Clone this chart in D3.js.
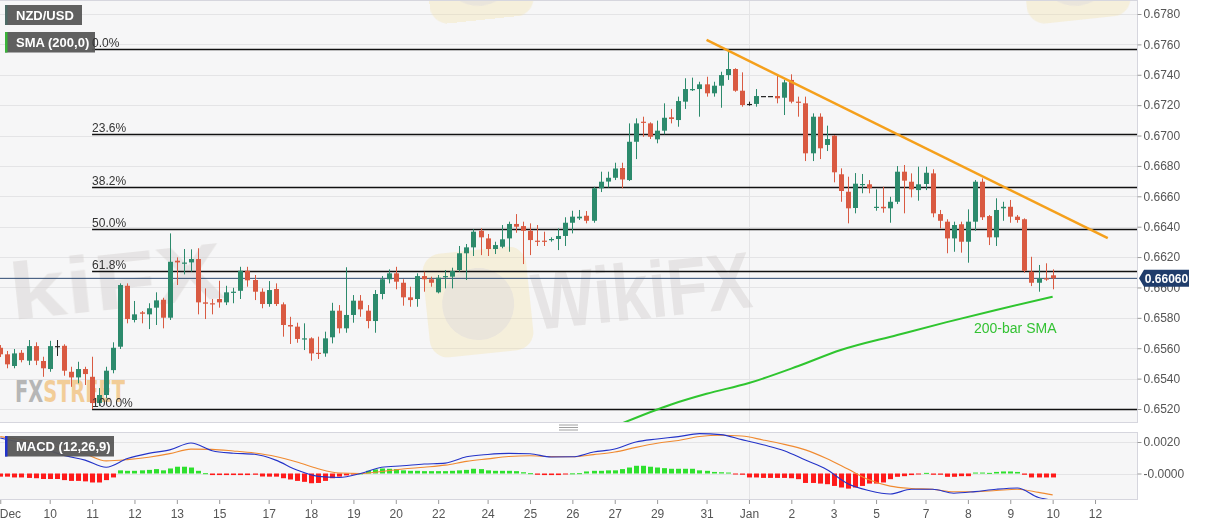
<!DOCTYPE html>
<html><head><meta charset="utf-8">
<script src="https://cdn.jsdelivr.net/npm/d3@7"></script>
<style>
body{margin:0;background:#fff;}
svg{display:block;font-family:"Liberation Sans",Arial,sans-serif;}
</style>
</head><body>
<svg id="c" width="1207" height="526"></svg>
<script>
// ---------- DATA (4-hour NZD/USD candles, bar index 0 = Dec 8) ----------
const opens = [.65603,.65560,.65483,.65570,.65518,.65614,.65516,.65463,.65614,.65616,
.65445,.65408,.65463,.65412,.65239,.65292,.65456,.65610,.66011,.65786,
.65836,.65823,.65867,.65919,.65801,.66176,.66161,.66165,.66187,.65902,
.65896,.65924,.65902,.65970,.65978,.66110,.66049,.65972,.65891,.65990,
.65889,.65753,.65742,.65659,.65665,.65570,.65566,.65672,.65847,.65731,
.65819,.65913,.65847,.65779,.65957,.66054,.66093,.66031,.65935,.65924,
.66075,.66054,.65968,.66067,.66071,.66115,.66225,.66264,.66373,.66323,
.66253,.66268,.66323,.66418,.66404,.66373,.66308,.66308,.66312,.66319,
.66339,.66426,.66455,.66472,.66439,.66653,.66697,.66722,.66786,.66707,
.66959,.67091,.67080,.66975,.67032,.67120,.67102,.67223,.67300,.67306,
.67337,.67278,.67328,.67398,.67438,.67295,.67208,.67208,.67260,.67260,
.67260,.67249,.67366,.67223,.67212,.66883,.67124,.66938,.66999,.66745,
.66630,.66523,.66674,.66679,.66525,.66531,.66521,.66564,.66762,.66696,
.66641,.66681,.66751,.66483,.66433,.66323,.66416,.66301,.66433,.66696,
.66470,.66330,.66521,.66531,.66466,.66449,.66104,.66031,.66060,.66080];
const highs = [.65621,.65582,.65595,.65588,.65654,.65639,.65544,.65649,.65654,.65626,
.65478,.65511,.65478,.65544,.65338,.65478,.65639,.66027,.66027,.65911,
.65845,.65896,.65968,.65932,.66356,.66198,.66253,.66251,.66258,.65994,
.65924,.66044,.66011,.65998,.66136,.66136,.66082,.65994,.66042,.66027,
.65902,.65807,.65768,.65764,.65672,.65676,.65709,.65899,.65884,.66133,
.65950,.65950,.65884,.65983,.66075,.66119,.66136,.66054,.66005,.66093,
.66104,.66071,.66082,.66115,.66130,.66273,.66286,.66383,.66389,.66352,
.66301,.66411,.66433,.66483,.66433,.66422,.66411,.66367,.66330,.66389,
.66462,.66505,.66510,.66503,.66663,.66762,.66762,.66821,.66821,.67080,
.67113,.67124,.67087,.67098,.67212,.67175,.67256,.67377,.67381,.67354,
.67387,.67354,.67420,.67568,.67443,.67416,.67223,.67306,.67260,.67260,
.67394,.67366,.67403,.67256,.67256,.67146,.67146,.67065,.67003,.66784,
.66729,.66753,.66747,.66707,.66646,.66663,.66597,.66799,.66806,.66751,
.66795,.66795,.66778,.66510,.66449,.66433,.66433,.66514,.66707,.66718,
.66477,.66587,.66564,.66576,.66477,.66455,.66202,.66148,.66159,.66119];
const lows = [.65542,.65468,.65468,.65507,.65489,.65489,.65412,.65445,.65549,.65419,
.65346,.65369,.65358,.65200,.65219,.65270,.65435,.65595,.65764,.65770,
.65764,.65726,.65753,.65731,.65786,.66016,.66086,.66104,.65823,.65792,
.65823,.65867,.65884,.65896,.65924,.66005,.65917,.65863,.65873,.65878,
.65676,.65628,.65636,.65588,.65518,.65529,.65544,.65632,.65698,.65702,
.65768,.65807,.65731,.65702,.65922,.66027,.65988,.65880,.65873,.65873,
.65972,.66005,.65961,.65994,.65994,.66104,.66049,.66207,.66213,.66207,
.66220,.66258,.66235,.66360,.66154,.66213,.66273,.66273,.66301,.66246,
.66273,.66356,.66444,.66422,.66426,.66628,.66658,.66707,.66653,.66701,
.66845,.66992,.66977,.66949,.67008,.67080,.67058,.67175,.67293,.67124,
.67256,.67256,.67183,.67366,.67288,.67190,.67196,.67190,.67260,.67260,
.67212,.67135,.67212,.67124,.66832,.66832,.66845,.66898,.66692,.66564,
.66422,.66488,.66620,.66620,.66505,.66492,.66426,.66549,.66488,.66593,
.66571,.66641,.66462,.66389,.66225,.66235,.66229,.66163,.66373,.66444,
.66279,.66273,.66439,.66426,.66426,.66097,.66009,.65972,.66044,.65988];
const closes = [.65560,.65494,.65566,.65522,.65614,.65518,.65468,.65614,.65614,.65452,
.65408,.65463,.65430,.65239,.65292,.65452,.65603,.66016,.65792,.65823,
.65827,.65863,.65915,.65801,.66169,.66165,.66164,.66187,.65902,.65893,
.65889,.65902,.65968,.65972,.66110,.66047,.65972,.65891,.65983,.65891,
.65753,.65743,.65661,.65665,.65566,.65562,.65665,.65847,.65731,.65819,
.65913,.65856,.65779,.65957,.66054,.66093,.66038,.65935,.65917,.66075,
.66054,.66031,.66064,.66075,.66108,.66225,.66264,.66367,.66330,.66253,
.66279,.66317,.66418,.66400,.66373,.66312,.66301,.66301,.66319,.66339,
.66426,.66466,.66466,.66439,.66653,.66696,.66722,.66783,.66711,.66959,
.67080,.67084,.66992,.67032,.67117,.67109,.67227,.67306,.67306,.67337,
.67278,.67328,.67398,.67438,.67295,.67201,.67208,.67260,.67260,.67260,
.67245,.67350,.67223,.67216,.66883,.67124,.66916,.66977,.66758,.66635,
.66521,.66683,.66681,.66653,.66531,.66521,.66564,.66762,.66703,.66646,
.66679,.66755,.66488,.66439,.66323,.66411,.66301,.66433,.66696,.66462,
.66330,.66510,.66531,.66466,.66444,.66110,.66031,.66060,.66054,.66060];

const xTickIdx    = [0,7,13,19,25,31,38,44,50,56,62,69,75,81,87,93,100,106,112,118,124,131,137,143,149,155];
const xTickLabels = ["Dec","10","11","12","13","15","17","18","19","20","22","24","25","26","27","29","31","Jan","2","3","5","7","8","9","10","12"];
const yTicks = [0.6520,0.6540,0.6560,0.6580,0.6600,0.6620,0.6640,0.6660,0.6680,0.6700,0.6720,0.6740,0.6760,0.6780];

const smaIdx  = [88,95,100,106,113,119,127,134,141,149];
const smaVals = [0.65105,0.65230,0.65300,0.65371,0.65483,0.65588,0.65687,0.65772,0.65852,0.65939];

const trendIdx  = [100,156.8];
const trendVals = [0.67629,0.66325];

const fibHigh = 0.67568, fibLow = 0.65202, fibStartIdx = 13;
const fibLevels = [0,23.6,38.2,50,61.8,100];
const lastPrice = 0.66060;

const macdIdx = [0,3,6,9,12,15,18,21,24,27,30,33,36,39,42,45,48,51,54,57,60,63,66,69,72,75,78,81,84,87,90,93,96,99,102,105,108,111,114,117,120,123,126,129,132,135,138,141,144,147,149];
const macdLine = [0.00225,0.00195,0.00160,0.00115,0.00085,0.00040,0.00095,0.00128,0.00150,0.00194,
0.00145,0.00129,0.00122,0.00085,0.00022,-0.00018,-0.00025,0.00000,0.00040,0.00049,
0.00060,0.00066,0.00106,0.00121,0.00128,0.00125,0.00105,0.00106,0.00136,0.00155,
0.00200,0.00219,0.00234,0.00253,0.00247,0.00215,0.00182,0.00145,0.00085,0.00025,
-0.00065,-0.00108,-0.00130,-0.00100,-0.00100,-0.00125,-0.00115,-0.00100,-0.00092,-0.00152,-0.00168];
const signalLine = [0.00234,0.00215,0.00190,0.00160,0.00125,0.00080,0.00088,0.00103,0.00126,0.00155,
0.00153,0.00143,0.00130,0.00108,0.00073,0.00030,0.00003,0.00000,0.00013,0.00029,
0.00040,0.00053,0.00077,0.00093,0.00108,0.00113,0.00107,0.00106,0.00120,0.00136,
0.00166,0.00192,0.00210,0.00235,0.00243,0.00238,0.00213,0.00185,0.00150,0.00095,
0.00028,-0.00040,-0.00080,-0.00095,-0.00100,-0.00116,-0.00116,-0.00108,-0.00100,-0.00120,-0.00136];
const histogram = [-0.00020,-0.00020,-0.00025,-0.00025,-0.00028,-0.00030,-0.00035,-0.00035,-0.00035,-0.00042,
-0.00047,-0.00047,-0.00050,-0.00057,-0.00057,-0.00042,-0.00025,0.00020,0.00017,0.00017,
0.00020,0.00023,0.00028,0.00020,0.00032,0.00043,0.00043,0.00038,0.00017,0.00002,
-0.00010,-0.00010,-0.00010,-0.00010,-0.00010,-0.00010,-0.00008,-0.00019,-0.00020,-0.00020,
-0.00030,-0.00038,-0.00047,-0.00053,-0.00062,-0.00060,-0.00047,-0.00030,-0.00020,-0.00012,
-0.00003,0.00001,0.00017,0.00026,0.00032,0.00030,0.00028,0.00020,0.00017,0.00017,
0.00015,0.00015,0.00015,0.00015,0.00017,0.00020,0.00023,0.00030,0.00028,0.00020,
0.00017,0.00017,0.00017,0.00015,0.00008,0.00002,-0.00008,-0.00010,-0.00010,-0.00010,
-0.00005,0.00001,0.00002,0.00013,0.00017,0.00017,0.00020,0.00020,0.00028,0.00038,
0.00049,0.00049,0.00043,0.00038,0.00034,0.00030,0.00030,0.00030,0.00030,0.00020,
0.00017,0.00010,0.00008,0.00006,-0.00004,-0.00008,-0.00025,-0.00025,-0.00028,-0.00028,
-0.00028,-0.00028,-0.00030,-0.00036,-0.00060,-0.00060,-0.00064,-0.00068,-0.00079,-0.00089,
-0.00096,-0.00089,-0.00079,-0.00064,-0.00064,-0.00057,-0.00036,-0.00021,-0.00017,-0.00010,
-0.00006,0.00004,-0.00008,-0.00008,-0.00021,-0.00021,-0.00017,-0.00017,0.00006,0.00006,
0.00004,0.00010,0.00013,0.00013,0.00010,-0.00008,-0.00025,-0.00025,-0.00025,-0.00025];

// ---------- LAYOUT ----------
const plotR = 1137, mainTop = 0, mainBot = 423, macdTop = 432, macdBot = 500;
const svg = d3.select("#c");
const x = d3.scaleLinear().domain([0,149]).range([0.26, 0.26 + 149*7.063]);
const y = d3.scaleLinear().domain([0.6520,0.6780]).range([409,14]);
const ym = d3.scaleLinear().domain([0,0.0020]).range([473.5,442]);

const defs = svg.append("defs");
defs.append("clipPath").attr("id","cm").append("rect").attr("x",0).attr("y",mainTop).attr("width",plotR).attr("height",mainBot-mainTop);
defs.append("clipPath").attr("id","cd").append("rect").attr("x",0).attr("y",macdTop).attr("width",plotR).attr("height",macdBot-macdTop);

// panels
svg.append("rect").attr("x",0).attr("y",mainTop).attr("width",plotR).attr("height",mainBot-mainTop).attr("fill","#f6f6f7");
svg.append("rect").attr("x",0).attr("y",macdTop).attr("width",plotR).attr("height",macdBot-macdTop).attr("fill","#f6f6f7");

// grid
const g0 = svg.append("g").attr("clip-path","url(#cm)");
g0.selectAll("line.h").data(yTicks).join("line")
  .attr("x1",0).attr("x2",plotR).attr("y1",d=>Math.round(y(d))+0.5).attr("y2",d=>Math.round(y(d))+0.5)
  .attr("stroke","#e4e4e6").attr("stroke-width",1);
g0.append("line").attr("x1",Math.round(x(106))+0.5).attr("x2",Math.round(x(106))+0.5).attr("y1",mainTop).attr("y2",mainBot).attr("stroke","#e4e4e6");
const gm0 = svg.append("g").attr("clip-path","url(#cd)");
gm0.selectAll("line").data([0.0020,0]).join("line")
  .attr("x1",0).attr("x2",plotR).attr("y1",d=>Math.round(ym(d))+0.5).attr("y2",d=>Math.round(ym(d))+0.5)
  .attr("stroke","#e4e4e6");
gm0.append("line").attr("x1",Math.round(x(106))+0.5).attr("x2",Math.round(x(106))+0.5).attr("y1",macdTop).attr("y2",macdBot).attr("stroke","#e4e4e6");

// watermarks
const wm = svg.append("g").attr("clip-path","url(#cm)").attr("opacity",0.45);
function logo(cx, cy){
  const g = wm.append("g").attr("transform",`translate(${cx},${cy}) rotate(-6)`);
  g.append("rect").attr("x",-52).attr("y",-52).attr("width",104).attr("height",104).attr("rx",18).attr("fill","#f3e0a0").attr("opacity",0.7);
  g.append("circle").attr("cx",0).attr("cy",2).attr("r",36).attr("fill","#cfc6bb").attr("opacity",0.7);
}
function wtext(x0, y0, txt, len){
  wm.append("text").attr("transform",`translate(${x0},${y0}) rotate(-6)`).attr("font-size",80).attr("font-weight","bold")
   .attr("textLength",len).attr("lengthAdjust","spacingAndGlyphs").attr("fill","#d3cfcd").text(txt);
}
wtext(12, 320, "kiFX", 215);
logo(478, 302);
wtext(535, 330, "WikiFX", 220);
logo(478, -32);
logo(1075, -32);
const fx = svg.append("g").attr("opacity",0.6);
fx.append("text").attr("x",15).attr("y",402).attr("font-size",31).attr("font-weight","bold")
  .attr("font-family","'DejaVu Sans Condensed','Liberation Sans Narrow',sans-serif").attr("textLength",110).attr("lengthAdjust","spacingAndGlyphs")
  .selectAll("tspan").data([["FX","#8c8c8c"],["STREET","#f1b35a"]]).join("tspan").attr("fill",d=>d[1]).text(d=>d[0]);

// fib lines
const fibG = svg.append("g").attr("clip-path","url(#cm)");
fibLevels.forEach(l=>{
  const v = fibHigh - (fibHigh-fibLow)*l/100;
  const yy = Math.round(y(v))+0.5;
  fibG.append("line").attr("x1",x(fibStartIdx)).attr("x2",plotR).attr("y1",yy).attr("y2",yy).attr("stroke","#111").attr("stroke-width",1.3);
});

// last price line
svg.append("line").attr("x1",0).attr("x2",plotR).attr("y1",y(lastPrice)).attr("y2",y(lastPrice)).attr("stroke","#2d4a72").attr("stroke-width",1);

// candles
const idx = d3.range(opens.length);
const up = "#2c8a6c", dn = "#d95a42", flat = "#222";
const col = i => closes[i]>opens[i] ? up : (closes[i]<opens[i] ? dn : flat);
const cg = svg.append("g").attr("clip-path","url(#cm)");
cg.selectAll("line.w").data(idx).join("line")
  .attr("x1",i=>Math.round(x(i))+0.5).attr("x2",i=>Math.round(x(i))+0.5)
  .attr("y1",i=>y(highs[i])).attr("y2",i=>Math.max(y(lows[i]), y(highs[i])+0.01))
  .attr("stroke",col).attr("stroke-width",1);
cg.selectAll("rect.b").data(idx).join("rect")
  .attr("x",i=>Math.round(x(i))-2).attr("width",5)
  .attr("y",i=>y(Math.max(opens[i],closes[i])))
  .attr("height",i=>Math.max(1.2, Math.abs(y(opens[i])-y(closes[i]))))
  .attr("fill",col);

// SMA 200
svg.append("path").attr("clip-path","url(#cm)")
  .attr("d", d3.line().x(i=>x(smaIdx[i])).y(i=>y(smaVals[i])).curve(d3.curveMonotoneX)(d3.range(smaIdx.length)))
  .attr("fill","none").attr("stroke","#2fc52f").attr("stroke-width",2);
svg.append("text").attr("x",974).attr("y",333).attr("font-size",14).attr("fill","#33c233").text("200-bar SMA");

// trend line
svg.append("path").attr("clip-path","url(#cm)")
  .attr("d", d3.line().x(i=>x(trendIdx[i])).y(i=>y(trendVals[i]))(d3.range(trendIdx.length)))
  .attr("fill","none").attr("stroke","#f5a01c").attr("stroke-width",2.5);

// MACD histogram & lines
const mg = svg.append("g").attr("clip-path","url(#cd)");
mg.selectAll("rect").data(idx).join("rect")
  .attr("x",i=>Math.round(x(i))-2).attr("width",5)
  .attr("y",i=>histogram[i]>=0 ? ym(histogram[i]) : ym(0))
  .attr("height",i=>Math.max(1, Math.abs(ym(histogram[i])-ym(0))))
  .attr("fill",i=>histogram[i]>=0 ? "#2ee02e" : "#ff1a1a");
mg.append("path").attr("d", d3.line().x(i=>x(macdIdx[i])).y(i=>ym(signalLine[i])).curve(d3.curveMonotoneX)(d3.range(macdIdx.length)))
  .attr("fill","none").attr("stroke","#f08a30").attr("stroke-width",1.1);
mg.append("path").attr("d", d3.line().x(i=>x(macdIdx[i])).y(i=>ym(macdLine[i])).curve(d3.curveMonotoneX)(d3.range(macdIdx.length)))
  .attr("fill","none").attr("stroke","#2433c8").attr("stroke-width",1.1);

// panel borders
[[mainTop,mainBot],[macdTop,macdBot]].forEach(([t,b])=>{
  svg.append("rect").attr("x",-1).attr("y",t+0.5).attr("width",plotR+1.5).attr("height",b-t-1)
    .attr("fill","none").attr("stroke","#d6d6de").attr("stroke-width",1);
});
// splitter handle
[425,427.5,430].forEach(yy=>svg.append("line").attr("x1",559).attr("x2",578).attr("y1",yy).attr("y2",yy).attr("stroke","#888").attr("stroke-width",0.8));

// axes
const ya = svg.append("g").attr("transform",`translate(${plotR+0.5},0)`)
  .call(d3.axisRight(y).tickValues(yTicks).tickFormat(d3.format(".4f")).tickSize(4).tickPadding(2));
const ma = svg.append("g").attr("transform",`translate(${plotR+0.5},0)`)
  .call(d3.axisRight(ym).tickValues([0.0020,0]).tickFormat(d=> d===0 ? "-0.0000" : d3.format(".4f")(d)).tickSize(4).tickPadding(2));
const xa = svg.append("g").attr("transform",`translate(0,${macdBot})`)
  .call(d3.axisBottom(x).tickValues(xTickIdx).tickFormat((d,k)=>xTickLabels[k]).tickSize(4).tickPadding(5));
[ya,ma,xa].forEach(a=>{
  a.select(".domain").remove();
  a.selectAll(".tick line").attr("stroke","#999");
  a.selectAll(".tick text").attr("fill","#555").attr("font-size",12).attr("font-family","'Liberation Sans',Arial,sans-serif");
});
xa.selectAll(".tick text").filter((d,k)=>k===0).attr("text-anchor","start").attr("x",-1);

// last price tag
const tagY = y(lastPrice);
const tag = svg.append("g");
tag.append("path").attr("d",`M${plotR+2},${tagY} L${plotR+7},${tagY-8.5} H${plotR+52} V${tagY+8.5} H${plotR+7} Z`).attr("fill","#1f3c6b");
tag.append("text").attr("x",plotR+29.5).attr("y",tagY+4.3).attr("text-anchor","middle").attr("font-size",12).attr("font-weight","bold").attr("fill","#fff").text(lastPrice.toFixed(5));

// legend boxes
function box(xx,yy,w,h,txt,border){
  svg.append("rect").attr("x",xx).attr("y",yy).attr("width",w).attr("height",h).attr("fill","#575757").attr("opacity",0.95);
  if(border) svg.append("rect").attr("x",xx).attr("y",yy).attr("width",2.5).attr("height",h).attr("fill",border);
  svg.append("text").attr("x",xx+11).attr("y",yy+h/2+4.5).attr("font-size",13).attr("font-weight","bold").attr("fill","#fff").text(txt);
}
box(5,5,77,20,"NZD/USD","#4d6b66");
box(5,32,90,20.5,"SMA (200,0)","#39b439");
box(5,436,109,20.5,"MACD (12,26,9)","#2233cc");

// fib labels (drawn on top)
const fibT = svg.append("g");
fibLevels.forEach(l=>{
  const v = fibHigh - (fibHigh-fibLow)*l/100;
  const yy = Math.round(y(v))+0.5;
  fibT.append("text").attr("x",x(fibStartIdx)).attr("y",yy-2.5).attr("font-size",12).attr("fill","#333").text(l.toFixed(1)+"%");
});
</script>
</body></html>
